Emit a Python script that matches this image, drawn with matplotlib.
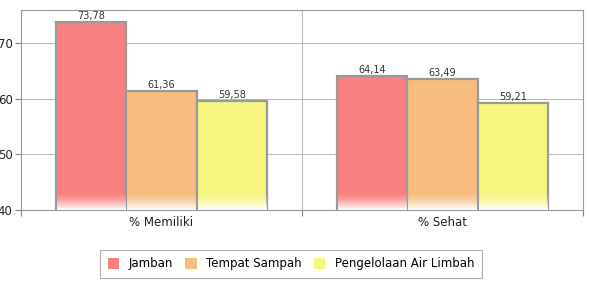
import numpy as np
import matplotlib.pyplot as plt
from matplotlib.colors import to_rgba

categories = ["% Memiliki", "% Sehat"]
series = ["Jamban", "Tempat Sampah", "Pengelolaan Air Limbah"]
values = {
    "Jamban": [73.78, 64.14],
    "Tempat Sampah": [61.36, 63.49],
    "Pengelolaan Air Limbah": [59.58, 59.21],
}
labels = {
    "Jamban": ["73,78", "64,14"],
    "Tempat Sampah": ["61,36", "63,49"],
    "Pengelolaan Air Limbah": ["59,58", "59,21"],
}
colors = ["#F88080", "#F6BC80", "#F6F680"]

plt.rcParams["font.family"] = ["DejaVu Sans"]
fig = plt.figure(figsize=(5.89, 2.85), dpi=100)
ax = fig.add_axes([21 / 589, 1 - 210 / 285, 562 / 589, 200 / 285])

ymin, ymax = 40, 75.9
bw = 0.25
x = np.arange(len(categories)) + 0.5

for i, s in enumerate(series):
    xs = x + (i - 1) * bw
    ax.bar(xs, np.array(values[s]) - ymin, bw, bottom=ymin, color=colors[i],
           edgecolor="#9a9a9a", linewidth=1.6, zorder=3)
    # white fade near the bottom of each bar
    fade = np.linspace(1, 0, 64).reshape(-1, 1)
    img = np.ones((64, 1, 4))
    img[..., 3] = fade ** 1.5
    for xc in xs:
        ax.imshow(img, extent=(xc - bw / 2 + 0.004, xc + bw / 2 - 0.004, ymin, ymin + 3.2),
                  origin="lower", aspect="auto", zorder=4, interpolation="bilinear")
    for xc, v, t in zip(xs, values[s], labels[s]):
        ax.text(xc, v + 0.15, t, ha="center", va="bottom", fontsize=7, color="#333333", zorder=5)

ax.set_xlim(0, 2)
ax.set_ylim(ymin, ymax)
ax.set_yticks([40, 50, 60, 70])
ax.set_xticks([0, 1, 2])
ax.set_xticklabels([])
ax.set_xticks(x, minor=True)
ax.set_xticklabels(categories, minor=True, fontsize=8.5, color="#222222")
ax.tick_params(axis="x", which="minor", length=0, pad=4)
ax.tick_params(axis="x", which="major", length=4, color="#888888")
ax.tick_params(axis="y", length=4, color="#888888", labelsize=8.5, labelcolor="#222222", pad=2)
ax.grid(axis="y", color="#bbbbbb", linewidth=0.8, zorder=0)
ax.axvline(1, color="#bbbbbb", linewidth=0.8, zorder=0)
for sp in ax.spines.values():
    sp.set_color("#999999")
    sp.set_linewidth(0.8)

handles = [plt.Rectangle((0, 0), 1, 1, facecolor=c, edgecolor="none") for c in colors]
leg = fig.legend(handles, series, loc="center", bbox_to_anchor=(291 / 589, 1 - 264 / 285),
                 ncol=3, frameon=True, fancybox=False, fontsize=8.5, handlelength=1.0,
                 handleheight=1.0, handletextpad=0.8, columnspacing=1.0, borderpad=0.6)
leg.get_frame().set_edgecolor("#999999")
leg.get_frame().set_linewidth(0.8)

fig.savefig("out.png", dpi=100)
